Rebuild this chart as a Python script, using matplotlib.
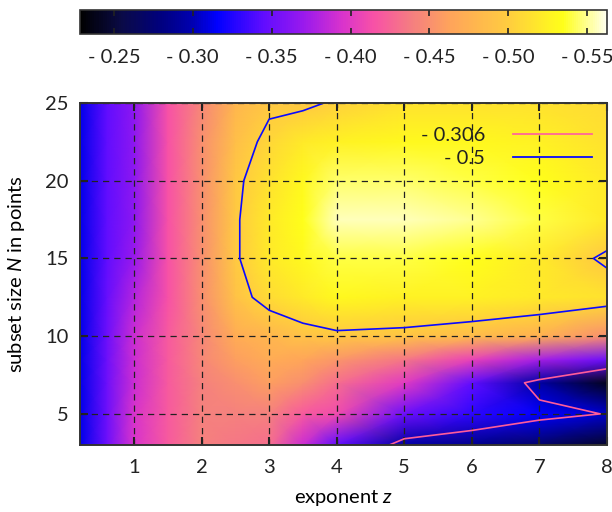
import numpy as np
import matplotlib
matplotlib.use('Agg')
import matplotlib.pyplot as plt
from matplotlib.colors import LinearSegmentedColormap, Normalize

# exponent z (columns) and subset size N (rows)
exponent_z = [0.2, 0.6, 1, 1.5, 2, 2.5, 3, 3.5, 4, 5, 6, 7, 8]
subset_n = [3, 5, 7, 8.5, 10, 12.5, 15, 17.5, 20, 22.5, 25]

# surface values, one row per subset size
surface = [
    [-0.312, -0.35, -0.395, -0.42, -0.44, -0.435, -0.43, -0.39, -0.345, -0.295, -0.285, -0.27, -0.245],
    [-0.312, -0.35, -0.395, -0.42, -0.44, -0.44, -0.44, -0.42, -0.41, -0.35, -0.33, -0.315, -0.305],
    [-0.312, -0.35, -0.39, -0.42, -0.44, -0.45, -0.46, -0.45, -0.43, -0.40, -0.345, -0.295, -0.24],
    [-0.312, -0.35, -0.39, -0.42, -0.445, -0.46, -0.47, -0.465, -0.455, -0.435, -0.405, -0.375, -0.35],
    [-0.312, -0.35, -0.39, -0.42, -0.445, -0.47, -0.48, -0.49, -0.495, -0.493, -0.485, -0.475, -0.45],
    [-0.312, -0.348, -0.38, -0.415, -0.45, -0.49, -0.51, -0.52, -0.53, -0.525, -0.525, -0.52, -0.515],
    [-0.312, -0.345, -0.37, -0.415, -0.45, -0.497, -0.52, -0.53, -0.54, -0.54, -0.535, -0.52, -0.495],
    [-0.312, -0.345, -0.365, -0.415, -0.45, -0.497, -0.52, -0.535, -0.555, -0.555, -0.55, -0.54, -0.52],
    [-0.312, -0.345, -0.365, -0.415, -0.45, -0.495, -0.515, -0.53, -0.545, -0.545, -0.54, -0.535, -0.52],
    [-0.312, -0.345, -0.365, -0.415, -0.45, -0.487, -0.507, -0.52, -0.525, -0.53, -0.53, -0.525, -0.515],
    [-0.312, -0.345, -0.365, -0.415, -0.445, -0.48, -0.495, -0.495, -0.503, -0.515, -0.515, -0.515, -0.51],
]

contour_levels = [-0.5, -0.306]
contour_labels = ['- 0.5', '- 0.306']
cbar_ticks = [-0.25, -0.30, -0.35, -0.40, -0.45, -0.50, -0.55]
cbar_labels = ['- 0.25', '- 0.30', '- 0.35', '- 0.40', '- 0.45', '- 0.50', '- 0.55']

FS = 14.5
plt.rcParams.update({
    'font.family': 'Lato',
    'font.size': FS,
    'mathtext.fontset': 'custom',
    'mathtext.rm': 'Lato',
    'mathtext.it': 'Lato:italic',
    'text.color': '#222222',
    'xtick.color': '#222222',
    'ytick.color': '#222222',
})

# palette: white (most negative) -> yellow -> orange -> pink -> magenta -> blue -> black
vmin, vmax = -0.5625, -0.2285
stops = [
    (-0.5625, (1.00, 1.00, 0.93)),
    (-0.535, (1.00, 1.00, 0.10)),
    (-0.50, (1.00, 0.80, 0.25)),
    (-0.465, (1.00, 0.65, 0.35)),
    (-0.44, (0.96, 0.50, 0.50)),
    (-0.415, (0.97, 0.32, 0.65)),
    (-0.395, (0.85, 0.20, 0.80)),
    (-0.37, (0.60, 0.10, 0.93)),
    (-0.345, (0.38, 0.05, 1.00)),
    (-0.315, (0.00, 0.00, 1.00)),
    (-0.30, (0.00, 0.00, 0.70)),
    (-0.28, (0.00, 0.00, 0.50)),
    (-0.255, (0.04, 0.04, 0.28)),
    (-0.2285, (0.00, 0.00, 0.00)),
]
cmap = LinearSegmentedColormap.from_list(
    'gp', [((v - vmin) / (vmax - vmin), c) for v, c in stops])
norm = Normalize(vmin=vmin, vmax=vmax)

fig = plt.figure(figsize=(6.12, 5.12), dpi=100)
ax = fig.add_axes([0.1307, 0.1309, 0.861, 0.668])

Z = np.array(surface)
mesh = ax.pcolormesh(exponent_z, subset_n, Z, cmap=cmap, norm=norm, shading='gouraud')

cs = ax.contour(exponent_z, subset_n, Z, levels=contour_levels,
                colors=['#0a0aff', '#ff5c9a'], linewidths=1.2)

# legend proxies (gnuplot style: text left of sample)
h_pink, = ax.plot([], [], color='#ff6699', lw=1.3)
h_blue, = ax.plot([], [], color='#0a0aff', lw=1.3)
leg = ax.legend([h_pink, h_blue], [contour_labels[1], contour_labels[0]],
                loc='upper right', bbox_to_anchor=(0.987, 0.953),
                frameon=False, markerfirst=False,
                alignment='right', handlelength=3.9, handletextpad=1.4,
                labelspacing=0.3, borderaxespad=0, fontsize=FS)

ax.set_xlim(0.2, 8)
ax.set_ylim(3, 25)
ax.set_xticks([1, 2, 3, 4, 5, 6, 7, 8])
ax.set_yticks([5, 10, 15, 20, 25])
ax.grid(True, color='#222222', linestyle=(0, (5, 4)), linewidth=0.9)
ax.tick_params(direction='in', length=6, width=1.5, top=True, right=True)
ax.tick_params(axis='x', pad=10)
ax.tick_params(axis='y', pad=8)
for s in ax.spines.values():
    s.set_linewidth(1.4)
    s.set_color('#333333')

ax.set_xlabel('exponent $z$', labelpad=9)
ax.set_ylabel('subset size $N$ in points', labelpad=13)

# colorbar on top
cax = fig.add_axes([0.1307, 0.9336, 0.861, 0.0469])
cb = fig.colorbar(mesh, cax=cax, orientation='horizontal')
cax.invert_xaxis()
cb.set_ticks(cbar_ticks)
cb.set_ticklabels(cbar_labels)
cax.tick_params(direction='in', length=4, width=1.2, top=True, bottom=True, pad=11)
cb.outline.set_linewidth(1.2)
cb.outline.set_edgecolor('#333333')

fig.savefig('out.png', dpi=100)
